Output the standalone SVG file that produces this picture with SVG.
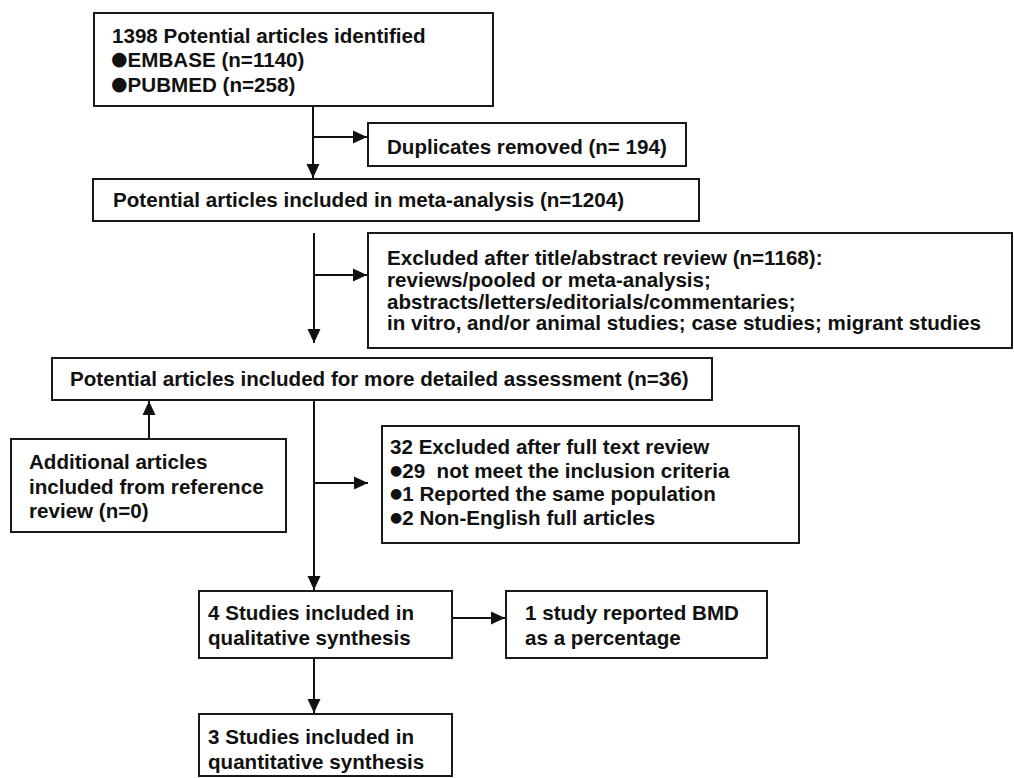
<svg xmlns="http://www.w3.org/2000/svg" width="1014" height="778" viewBox="0 0 1014 778">
<style>
.box{fill:#fff;stroke:#1a1a1a;stroke-width:2}
.t{font-family:"Liberation Sans",Arial,sans-serif;font-weight:bold;font-size:20.6px;fill:#111}
.ln{fill:none;stroke:#111;stroke-width:2}
.bb{font-family:"DejaVu Sans",sans-serif;font-weight:normal;font-size:19px}
.sb{font-family:"DejaVu Sans",sans-serif;font-weight:normal;font-size:14px}
.pre{white-space:pre}
</style>
<defs>
<marker id="ah" markerUnits="userSpaceOnUse" markerWidth="15" markerHeight="15" viewBox="0 0 15 15" refX="14" refY="7.5" orient="auto">
<path d="M0,1 L14,7.5 L0,14 Z" fill="#111"/>
</marker>
</defs>
<rect width="1014" height="778" fill="#fff"/>
<g id="connectors">
<line class="ln" x1="313" y1="106" x2="313" y2="178" marker-end="url(#ah)"/>
<line class="ln" x1="313" y1="137" x2="367" y2="137" marker-end="url(#ah)"/>
<line class="ln" x1="314" y1="233" x2="314" y2="343" marker-end="url(#ah)"/>
<line class="ln" x1="314" y1="275" x2="367" y2="275" marker-end="url(#ah)"/>
<line class="ln" x1="149" y1="439" x2="149" y2="401" marker-end="url(#ah)"/>
<line class="ln" x1="314" y1="400" x2="314" y2="590" marker-end="url(#ah)"/>
<line class="ln" x1="314" y1="483" x2="368" y2="483" marker-end="url(#ah)"/>
<line class="ln" x1="314" y1="658" x2="314" y2="713" marker-end="url(#ah)"/>
<line class="ln" x1="452" y1="618" x2="505" y2="618" marker-end="url(#ah)"/>
</g>
<g id="n1">
<rect class="box" x="94" y="13" width="399" height="93"/>
<text class="t" x="112" y="43">1398 Potential articles identified</text>
<text class="t" x="111" y="67"><tspan class="bb" dy="-2">●</tspan><tspan dy="2">EMBASE (n=1140)</tspan></text>
<text class="t" x="111" y="92"><tspan class="bb" dy="-2">●</tspan><tspan dy="2">PUBMED (n=258)</tspan></text>
</g>
<g id="n2">
<rect class="box" x="368" y="123" width="318" height="43"/>
<text class="t" x="387" y="154">Duplicates removed (n= 194)</text>
</g>
<g id="n3">
<rect class="box" x="93" y="179" width="606" height="42"/>
<text class="t" x="113" y="207">Potential articles included in meta-analysis (n=1204)</text>
</g>
<g id="n4">
<rect class="box" x="368" y="233" width="644" height="115"/>
<text class="t" x="387" y="265">Excluded after title/abstract review (n=1168):</text>
<text class="t" x="387" y="287">reviews/pooled or meta-analysis;</text>
<text class="t" x="387" y="309">abstracts/letters/editorials/commentaries;</text>
<text class="t" x="387" y="330">in vitro, and/or animal studies; case studies; migrant studies</text>
</g>
<g id="n5">
<rect class="box" x="52" y="358" width="660" height="42"/>
<text class="t" x="70" y="386">Potential articles included for more detailed assessment (n=36)</text>
</g>
<g id="n6">
<rect class="box" x="11" y="439" width="275" height="93"/>
<text class="t" x="29" y="469">Additional articles</text>
<text class="t" x="29" y="494">included from reference</text>
<text class="t" x="29" y="518">review (n=0)</text>
</g>
<g id="n7">
<rect class="box" x="382" y="426" width="417" height="117"/>
<text class="t" x="390" y="454">32 Excluded after full text review</text>
<text class="t pre" x="390" y="478"><tspan class="sb" dy="-3">●</tspan><tspan dy="3">29  not meet the inclusion criteria</tspan></text>
<text class="t" x="390" y="501"><tspan class="sb" dy="-3">●</tspan><tspan dy="3">1 Reported the same population</tspan></text>
<text class="t" x="390" y="525"><tspan class="sb" dy="-3">●</tspan><tspan dy="3">2 Non-English full articles</tspan></text>
</g>
<g id="n8">
<rect class="box" x="199" y="591" width="253" height="67"/>
<text class="t" x="208" y="620">4 Studies included in</text>
<text class="t" x="208" y="645">qualitative synthesis</text>
</g>
<g id="n9">
<rect class="box" x="506" y="591" width="261" height="67"/>
<text class="t" x="525" y="620">1 study reported BMD</text>
<text class="t" x="525" y="645">as a percentage</text>
</g>
<g id="n10">
<rect class="box" x="199" y="714" width="253" height="62"/>
<text class="t" x="208" y="744">3 Studies included in</text>
<text class="t" x="208" y="769">quantitative synthesis</text>
</g>
</svg>
